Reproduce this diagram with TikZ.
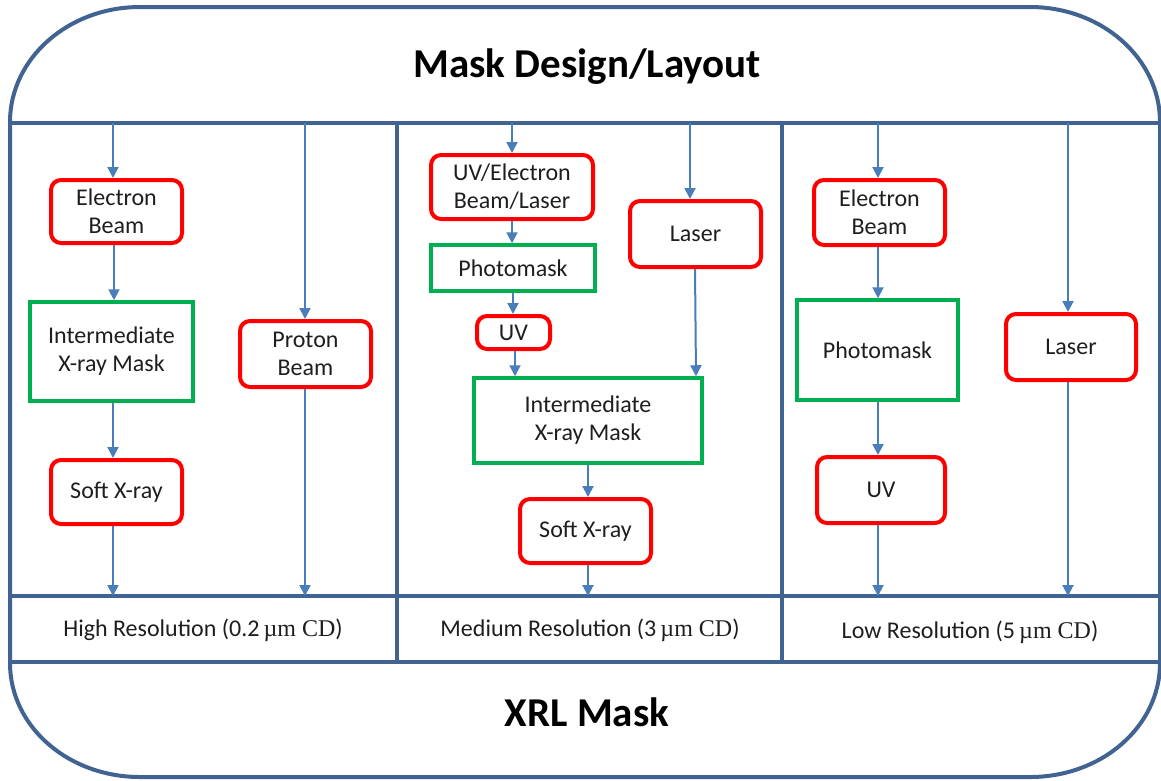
\documentclass[tikz,border=0pt]{standalone}
\usepackage{fontspec}
\setmainfont{Carlito}
\newfontfamily\serifmu{Liberation Serif}
\usetikzlibrary{arrows.meta}
\definecolor{frameblue}{RGB}{64,99,145}
\definecolor{arrowblue}{RGB}{74,126,187}
\definecolor{boxred}{RGB}{255,0,0}
\definecolor{boxgreen}{RGB}{0,176,80}
\definecolor{txt}{RGB}{30,30,30}
\tikzset{
  frame/.style={draw=frameblue, line width=4pt},
  redbox/.style={draw=boxred, line width=4pt, rounded corners=10pt, align=center, text=txt, inner sep=0pt, font=\fontsize{24}{28}\selectfont},
  greenbox/.style={draw=boxgreen, line width=3.5pt, align=center, text=txt, inner sep=0pt, font=\fontsize{24}{28}\selectfont},
  flow/.style={draw=arrowblue, line width=2pt, -{Triangle[width=11pt,length=11pt]}},
  reslabel/.style={text=txt, font=\fontsize{24}{28}\selectfont},
  title/.style={text=black, font=\fontsize{41}{48}\selectfont\bfseries}
}
\begin{document}
\begin{tikzpicture}[x=1pt,y=-1pt]
\useasboundingbox (0,0) rectangle (1161,780);
% outer frame
\draw[frame] (10,122) .. controls (10,58.5) and (68.2,7) .. (140,7) -- (1030,7)
  .. controls (1101.8,7) and (1160,58.5) .. (1160,122) -- (1160,663)
  .. controls (1160,726.5) and (1101.8,777) .. (1030,777) -- (140,777)
  .. controls (68.2,777) and (10,726.5) .. (10,663) -- cycle;
\draw[frame] (10,123) -- (1160,123);
\draw[frame] (10,596) -- (1160,596);
\draw[frame] (10,662) -- (1160,662);
\draw[frame] (397,123) -- (397,662);
\draw[frame] (782,123) -- (782,662);

% titles
\node[title] (top) at (587,67) {Mask Design/Layout};
\node[title] (bot) at (587,712) {XRL Mask};

% resolution labels
\node[reslabel] (res1) at (203,630) {High Resolution (0.2\,{\serifmu\textmu m CD})};
\node[reslabel] (res2) at (590,630) {Medium Resolution (3\,{\serifmu\textmu m CD})};
\node[reslabel] (res3) at (970,632) {Low Resolution (5\,{\serifmu\textmu m CD})};

% panel 1
\node[redbox, minimum width=131pt, minimum height=63pt] (eb1) at (116.5,211.5) {Electron\\Beam};
\node[greenbox, minimum width=163pt, minimum height=99pt] (ixm1) at (111.5,351.5) {Intermediate\\X-ray Mask};
\node[redbox, minimum width=131pt, minimum height=64pt] (sx1) at (116.5,492) {Soft X-ray};
\node[redbox, minimum width=131pt, minimum height=66pt] (pb1) at (305.5,354) {Proton\\Beam};
\coordinate (t1a) at (113,123);
\coordinate (b1a) at (113,596);
\coordinate (t1b) at (305,123);
\coordinate (b1b) at (305,596);
\draw[flow] (t1a) -- (t1a |- eb1.north);
\draw[flow] (eb1.south -| 114,0) -- (114,0 |- ixm1.north);
\draw[flow] (ixm1.south -| 113,0) -- (113,0 |- sx1.north);
\draw[flow] (sx1.south -| b1a) -- (b1a);
\draw[flow] (t1b) -- (t1b |- pb1.north);
\draw[flow] (pb1.south -| b1b) -- (b1b);

% panel 2
\node[redbox, minimum width=162pt, minimum height=64pt] (uvebl) at (512,187) {UV/Electron\\Beam/Laser};
\node[greenbox, minimum width=164pt, minimum height=46pt] (pm2) at (513,268) {Photomask};
\node[redbox, minimum width=73pt, minimum height=33pt] (uv2) at (513.5,332.5) {UV};
\node[greenbox, minimum width=228pt, minimum height=85pt] (ixm2) at (588,420.5) {Intermediate\\X-ray Mask};
\node[redbox, minimum width=131pt, minimum height=64pt] (sx2) at (585.5,531) {Soft X-ray};
\node[redbox, minimum width=131pt, minimum height=66pt] (las2) at (695.5,234) {Laser};
\coordinate (t2a) at (512,123);
\coordinate (t2b) at (690,123);
\coordinate (b2a) at (588,596);
\draw[flow] (t2a) -- (t2a |- uvebl.north);
\draw[flow] (uvebl.south -| 512,0) -- (512,0 |- pm2.north);
\draw[flow] (pm2.south -| 513,0) -- (513,0 |- uv2.north);
\draw[flow] (uv2.south -| 515,0) -- (515,0 |- ixm2.north);
\draw[flow] (ixm2.south -| 588,0) -- (588,0 |- sx2.north);
\draw[flow] (sx2.south -| b2a) -- (b2a);
\draw[flow] (t2b) -- (t2b |- las2.north);
\draw[flow] (las2.south -| 695,0) -- (696,0 |- ixm2.north);

% panel 3
\node[redbox, minimum width=131pt, minimum height=65pt] (eb3) at (879.5,212.5) {Electron\\Beam};
\node[greenbox, minimum width=161pt, minimum height=100pt] (pm3) at (877.5,350) {Photomask};
\node[redbox, minimum width=128pt, minimum height=66pt] (uv3) at (881,490) {UV};
\node[redbox, minimum width=130pt, minimum height=66pt] (las3) at (1071,347) {Laser};
\coordinate (t3a) at (878,123);
\coordinate (b3a) at (878,596);
\coordinate (t3b) at (1068,123);
\coordinate (b3b) at (1068,596);
\draw[flow] (t3a) -- (t3a |- eb3.north);
\draw[flow] (eb3.south -| 878,0) -- (878,0 |- pm3.north);
\draw[flow] (pm3.south -| 878,0) -- (878,0 |- uv3.north);
\draw[flow] (uv3.south -| b3a) -- (b3a);
\draw[flow] (t3b) -- (t3b |- las3.north);
\draw[flow] (las3.south -| b3b) -- (b3b);
\end{tikzpicture}
\end{document}
